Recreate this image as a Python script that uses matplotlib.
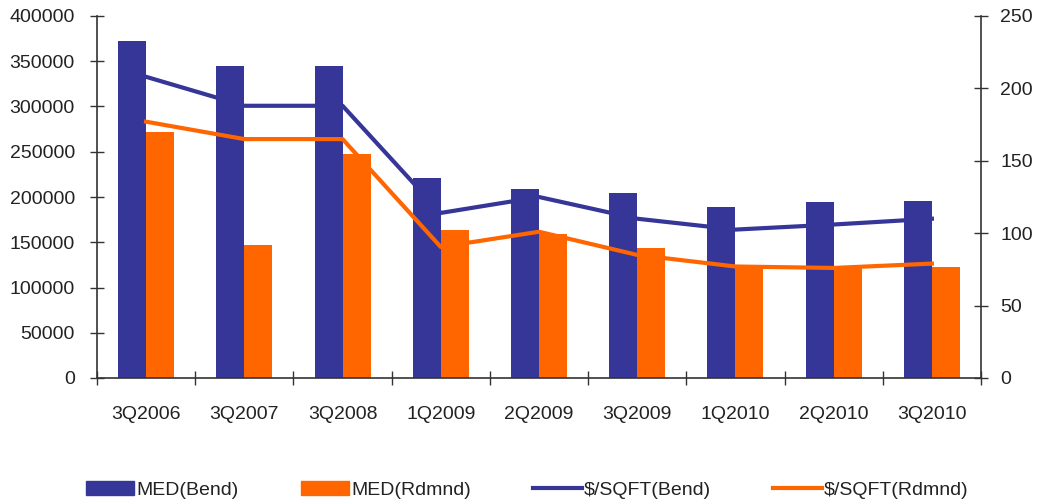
import matplotlib
matplotlib.use("Agg")
import matplotlib.pyplot as plt
import numpy as np
from matplotlib.lines import Line2D
from matplotlib.patches import Patch

categories = ["3Q2006", "3Q2007", "3Q2008", "1Q2009", "2Q2009",
              "3Q2009", "1Q2010", "2Q2010", "3Q2010"]
med_bend = [372000, 345000, 345000, 221000, 209000, 204000, 189000, 195000, 196000]
med_rdmnd = [272000, 147000, 247000, 164000, 159000, 144000, 124000, 123000, 123000]
sqft_bend = [208, 188, 188, 114, 125, 110, 102.5, 106, 110]
sqft_rdmnd = [177, 165, 165, 90.5, 101, 85, 77, 76, 79]

BLUE = "#363598"
ORANGE = "#FF6600"
TXT = "#222222"
SP = "#333333"

plt.rcParams['font.family'] = ['Liberation Sans', 'DejaVu Sans']
plt.rcParams['font.size'] = 14

fig = plt.figure(figsize=(10.39, 5.04), dpi=100)
ax = fig.add_axes([97/1039, 1-378/504, (981-97)/1039, (378-16)/504])
x = np.arange(len(categories))
w = 0.285
ax.bar(x - w/2, med_bend, width=w, color=BLUE, zorder=2)
ax.bar(x + w/2, med_rdmnd, width=w, color=ORANGE, zorder=2)
ax.set_xlim(-0.5, len(categories) - 0.5)
ax.set_ylim(0, 400000)
ax.set_yticks(np.arange(0, 400001, 50000))
ax.set_xticks(np.arange(-0.5, len(categories), 1.0))
ax.set_xticklabels([])
ax.set_xticks(x, minor=True)
ax.set_xticklabels(categories, minor=True)
ax.tick_params(axis='x', which='major', direction='inout', length=10, width=1, color=SP)
ax.tick_params(axis='x', which='minor', length=0, pad=20, labelcolor=TXT)
ax.tick_params(axis='y', direction='inout', length=10, width=1, color=SP, labelcolor=TXT, pad=11)
for s in ['top', 'right']:
    ax.spines[s].set_visible(False)
for s in ['left', 'bottom']:
    ax.spines[s].set_color(SP)
    ax.spines[s].set_linewidth(1.2)

ax2 = ax.twinx()
ax2.plot(x, sqft_bend, color=BLUE, lw=3, zorder=3)
ax2.plot(x, sqft_rdmnd, color=ORANGE, lw=3, zorder=3)
ax2.set_ylim(0, 250)
ax2.set_yticks(np.arange(0, 251, 50))
ax2.tick_params(axis='y', direction='inout', length=10, width=1, color=SP, labelcolor=TXT, pad=9)
for s in ['top', 'left', 'bottom']:
    ax2.spines[s].set_visible(False)
ax2.spines['right'].set_color(SP)
ax2.spines['right'].set_linewidth(1.2)

handles = [Patch(color=BLUE), Patch(color=ORANGE),
           Line2D([], [], color=BLUE, lw=3), Line2D([], [], color=ORANGE, lw=3)]
labels = ["MED(Bend)", "MED(Rdmnd)", "$/SQFT(Bend)", "$/SQFT(Rdmnd)"]
fig.legend(handles, labels, loc='center', bbox_to_anchor=(527/1039, 1-490/504),
           ncol=4, frameon=False, handlelength=2.5, handletextpad=0.1,
           columnspacing=3.2, labelcolor=TXT)

fig.savefig("out.png", dpi=100)
